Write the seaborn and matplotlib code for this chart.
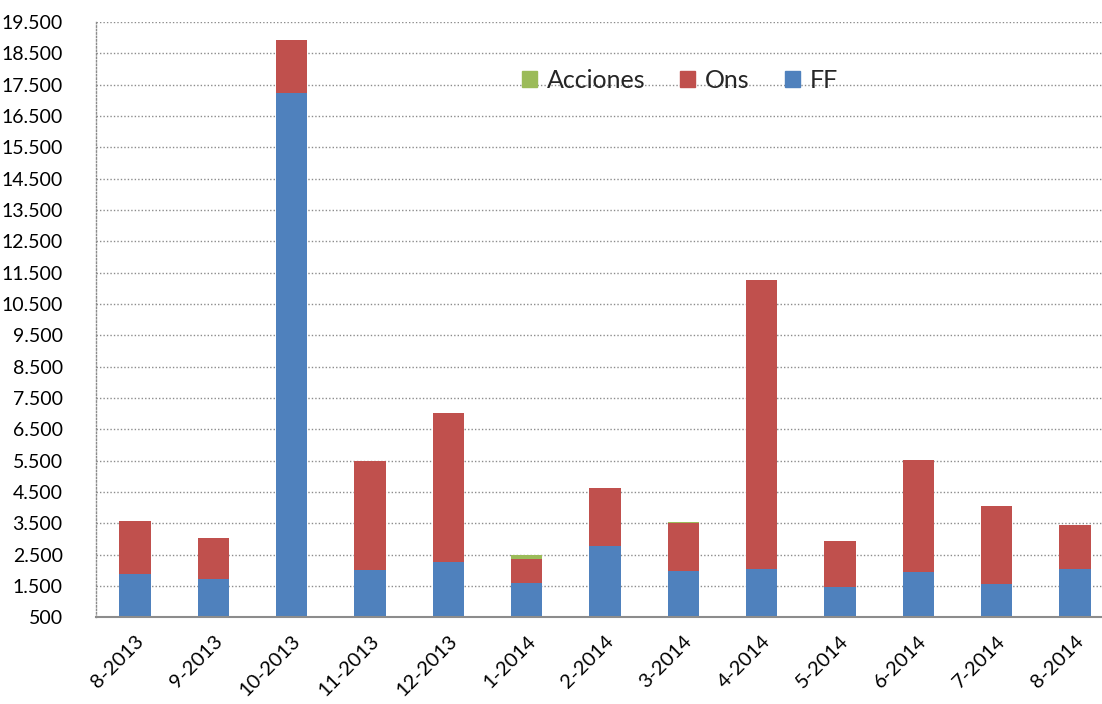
import matplotlib
matplotlib.use("Agg")
import matplotlib.pyplot as plt
import seaborn as sns
import pandas as pd
import numpy as np
from matplotlib.patches import Patch
from matplotlib.ticker import FuncFormatter, FixedLocator

categories = ["8-2013", "9-2013", "10-2013", "11-2013", "12-2013", "1-2014", "2-2014",
              "3-2014", "4-2014", "5-2014", "6-2014", "7-2014", "8-2014"]
ff = [1890, 1710, 17220, 2000, 2255, 1585, 2775, 1980, 2040, 1455, 1935, 1553, 2032]
ons = [1690, 1320, 1710, 3480, 4775, 785, 1850, 1540, 9215, 1470, 3595, 2490, 1404]
acciones = [0, 0, 0, 0, 0, 110, 0, 35, 0, 0, 0, 0, 0]
yticks = list(range(500, 19501, 1000))

c_ff = "#4F81BD"
c_ons = "#C0504D"
c_acc = "#9BBB59"

df = pd.DataFrame({"cat": categories, "FF": ff, "Ons": ons, "Acciones": acciones})
df["s_ons"] = df["FF"] + df["Ons"]
df["s_acc"] = df["s_ons"] + df["Acciones"]

sns.set_theme(style="white")
plt.rcParams["font.family"] = ["Lato", "DejaVu Sans"]

fig = plt.figure(figsize=(11.02, 7.04), dpi=100)
ax = fig.add_axes([96/1102, 1 - 617.3/704, 1018/1102, (617.3 - 22)/704])

sns.barplot(data=df, x="cat", y="s_acc", color=c_acc, width=0.4, saturation=1,
            ax=ax, order=categories, edgecolor="none")
sns.barplot(data=df, x="cat", y="s_ons", color=c_ons, width=0.4, saturation=1,
            ax=ax, order=categories, edgecolor="none")
sns.barplot(data=df, x="cat", y="FF", color=c_ff, width=0.4, saturation=1,
            ax=ax, order=categories, edgecolor="none")

ax.set_ylim(500, 19500)
ax.set_xlim(-0.5, len(categories) - 0.5)
ax.yaxis.set_major_locator(FixedLocator(yticks))
ax.yaxis.set_major_formatter(FuncFormatter(lambda v, p: f"{int(v):,}".replace(",", ".")))
ax.grid(axis="y", linestyle=(0, (1, 1.5)), color="#8c8c8c", linewidth=1.0)
ax.grid(axis="x", visible=False)
ax.set_axisbelow(True)

ax.xaxis.set_major_locator(FixedLocator(np.arange(-0.5, len(categories), 1.0)))
ax.xaxis.set_minor_locator(FixedLocator(np.arange(len(categories))))
ax.set_xticklabels([], minor=False)
ax.set_xticklabels(categories, minor=True, rotation=45, ha="right",
                   rotation_mode="anchor", fontsize=14.5, color="#000000")
ax.tick_params(axis="x", which="major", length=6, width=1.2, color="#8c8c8c", direction="out")
ax.tick_params(axis="x", which="minor", length=0, pad=11)
ax.tick_params(axis="y", length=8, width=0.8, color="#b0b0b0", pad=16, labelsize=14,
               labelcolor="#000000")

for s in ["top", "right"]:
    ax.spines[s].set_visible(False)
ax.spines["bottom"].set_color("#8c8c8c")
ax.spines["bottom"].set_linewidth(1.5)
ax.spines["left"].set_color("#8c8c8c")
ax.spines["left"].set_linestyle((0, (1, 1.5)))
ax.spines["left"].set_linewidth(1.0)
ax.set_xlabel("")
ax.set_ylabel("")

handles = [Patch(color=c_acc, label="Acciones"), Patch(color=c_ons, label="Ons"),
           Patch(color=c_ff, label="FF")]
fig.legend(handles=handles, loc="center", bbox_to_anchor=(680/1102, 1 - 80/704), ncol=3,
           frameon=False, fontsize=18, handlelength=0.6, handleheight=0.6,
           handletextpad=0.4, columnspacing=1.4)

fig.savefig("out.png", dpi=100)
